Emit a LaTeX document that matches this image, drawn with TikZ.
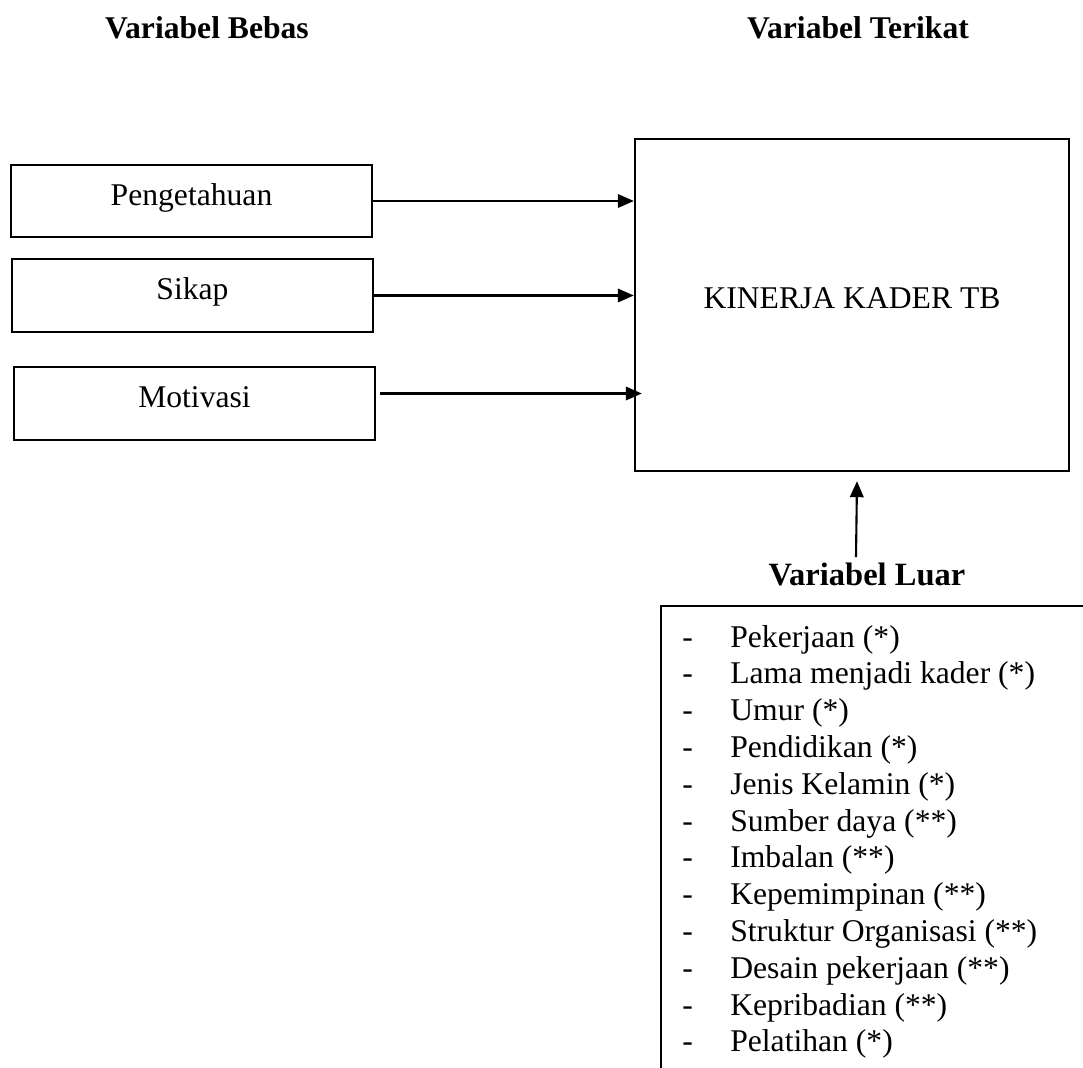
\documentclass[tikz,border=0pt]{standalone}
\usepackage{fontspec}
\setmainfont{Liberation Serif}
\usetikzlibrary{arrows.meta,positioning}

\begin{document}
\begin{tikzpicture}[x=0.02cm,y=-0.02cm,
  varbox/.style={draw,line width=1.4pt,minimum width=7.22cm,minimum height=1.45cm,font=\fontsize{18}{22}\selectfont,text height=12.2pt,text depth=7.2pt},
  kinbox/.style={draw,line width=1.4pt,minimum width=8.68cm,minimum height=6.64cm,font=\fontsize{18}{22}\selectfont,text height=12.2pt,text depth=8.6pt},
  judul/.style={font=\bfseries\fontsize{18}{22}\selectfont,inner sep=0.1cm,anchor=base},
  butir/.style={font=\fontsize{18}{22}\selectfont,inner sep=0pt,anchor=base west},
  rel/.style={-{Triangle[length=0.32cm,width=0.27cm]},line width=1.2pt}]
  \useasboundingbox (0,0) rectangle (1083,1068);
  \clip (0,0) rectangle (1083,1068);

  \node[judul] (bebas) at (207,39) {Variabel Bebas};
  \node[judul] (terikat) at (858,39) {Variabel Terikat};

  \node[varbox] (peng) at (191.5,201) {Pengetahuan};
  \node[varbox] (sikap) at (192.5,295.5) {Sikap};
  \node[varbox] (motiv) at (194.5,403.5) {Motivasi};
  \node[kinbox] (kin) at (852,305) {KINERJA KADER TB};

  \node[judul,font=\bfseries\fontsize{18.5}{22}\selectfont] (luar) at (867,585) {Variabel Luar};

  % daftar variabel luar
  \draw[line width=1.4pt] (1100,606) -| (661,1090);
  \node[butir] (b1) at (682,647) {\makebox[0.96cm][l]{-}Pekerjaan (*)};
  \node[butir] (b2) at (682,683.8) {\makebox[0.96cm][l]{-}Lama menjadi kader (*)};
  \node[butir] (b3) at (682,720.6) {\makebox[0.96cm][l]{-}Umur (*)};
  \node[butir] (b4) at (682,757.4) {\makebox[0.96cm][l]{-}Pendidikan (*)};
  \node[butir] (b5) at (682,794.2) {\makebox[0.96cm][l]{-}Jenis Kelamin (*)};
  \node[butir] (b6) at (682,831) {\makebox[0.96cm][l]{-}Sumber daya (**)};
  \node[butir] (b7) at (682,867.8) {\makebox[0.96cm][l]{-}Imbalan (**)};
  \node[butir] (b8) at (682,904.6) {\makebox[0.96cm][l]{-}Kepemimpinan (**)};
  \node[butir] (b9) at (682,941.4) {\makebox[0.96cm][l]{-}Struktur Organisasi (**)};
  \node[butir] (b10) at (682,978.2) {\makebox[0.96cm][l]{-}Desain pekerjaan (**)};
  \node[butir] (b11) at (682,1015) {\makebox[0.96cm][l]{-}Kepribadian (**)};
  \node[butir] (b12) at (682,1051.8) {\makebox[0.96cm][l]{-}Pelatihan (*)};

  \draw[rel] (peng.east) -- (peng.east -| kin.west);
  \draw[rel] (sikap.east) -- (sikap.east -| kin.west);
  \draw[rel,shorten <=0.08cm,shorten >=-0.16cm] ([yshift=0.2cm]motiv.east) -- ([yshift=0.2cm]motiv.east -| kin.west);
  \draw[rel] ([xshift=-0.22cm]luar.north) -- ([xshift=0.1cm,yshift=-0.18cm]kin.south);
\end{tikzpicture}
\end{document}
